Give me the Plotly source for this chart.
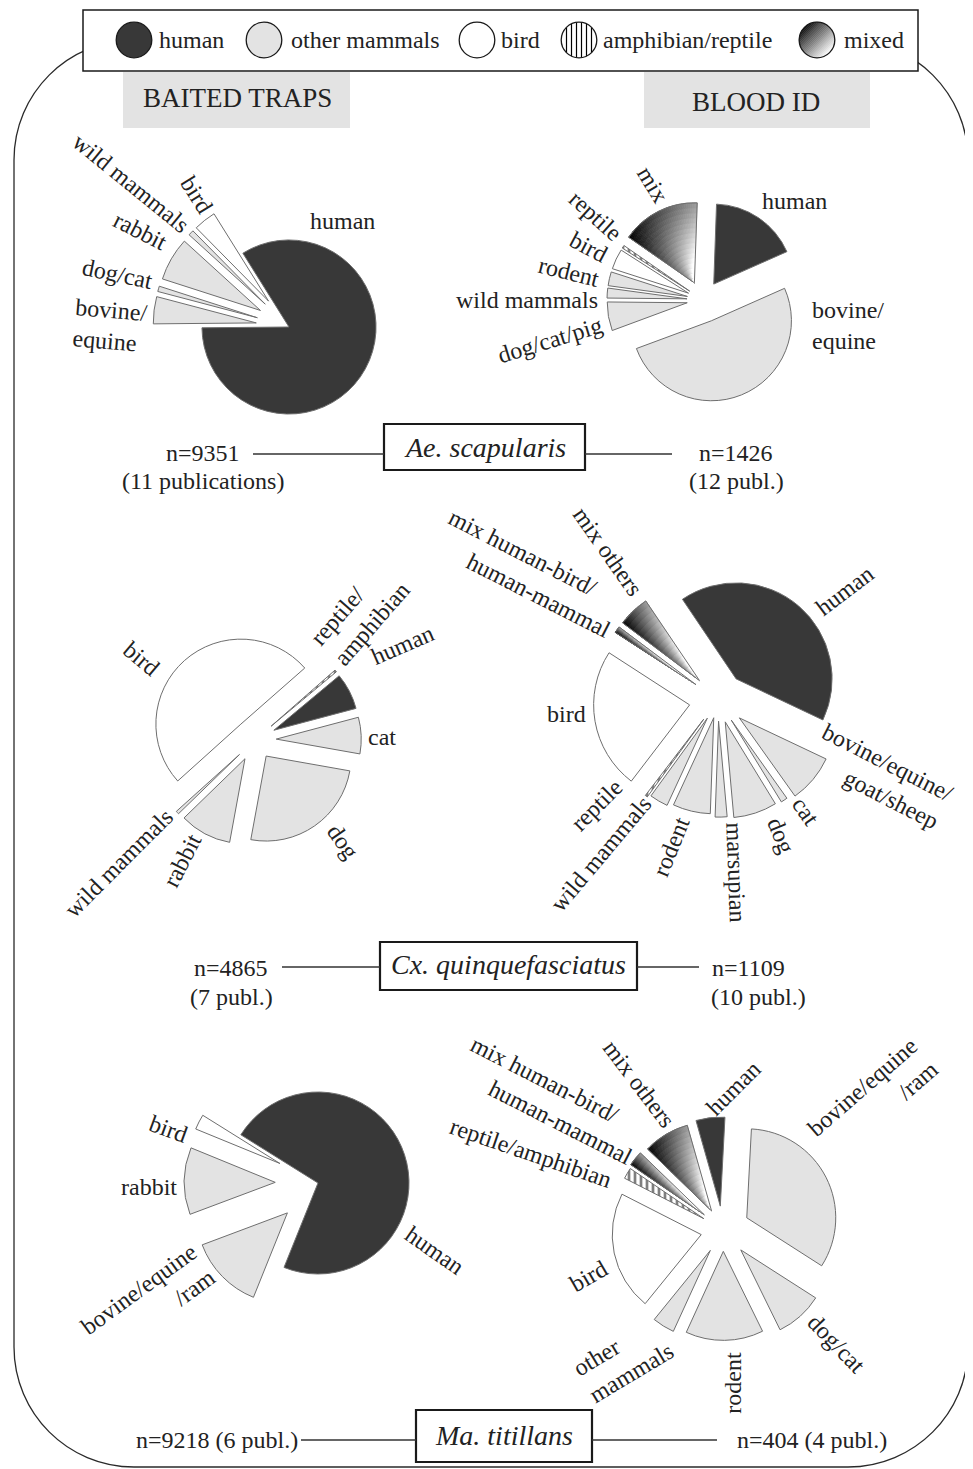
import math
import numpy as np
import plotly.graph_objects as go

W, H = 973, 1469
OFF = 8  # page body margin of the exported html

# =========================== DATA ===========================
species = ["Ae. scapularis", "Cx. quinquefasciatus", "Ma. titillans"]
trap_n = [9351, 4865, 9218]
trap_publ = [11, 7, 6]
blood_n = [1426, 1109, 404]
blood_publ = [12, 10, 4]

legend_names = ["human", "other mammals", "bird", "amphibian/reptile", "mixed"]
legend_groups = ["human", "mammal", "bird", "reptile", "mixed"]

# Ae. scapularis - baited traps (% of catch)
aes_trap_labels = ["human", "bovine/<br>equine", "dog/cat", "rabbit", "wild mammals", "bird"]
aes_trap_values = [83.7, 4.25, 0.85, 6.8, 0.85, 3.5]
aes_trap_groups = ["human", "mammal", "mammal", "mammal", "mammal", "bird"]

# Ae. scapularis - blood ID
aes_blood_labels = ["human", "bovine/<br>equine", "dog/cat/pig", "wild mammals", "rodent",
                    "bird", "reptile", "mix"]
aes_blood_values = [17.8, 51.0, 5.8, 2.0, 2.8, 4.1, 0.6, 15.9]
aes_blood_groups = ["human", "mammal", "mammal", "mammal", "mammal", "bird", "reptile", "mixed"]

# Cx. quinquefasciatus - baited traps
cxq_trap_labels = ["bird", "reptile/<br>amphibian", "human", "cat", "dog", "rabbit", "wild mammals"]
cxq_trap_values = [50.0, 0.4, 6.9, 6.9, 25.0, 9.8, 0.6]
cxq_trap_groups = ["bird", "reptile", "human", "mammal", "mammal", "mammal", "mammal"]

# Cx. quinquefasciatus - blood ID
cxq_blood_labels = ["human", "bovine/equine/<br>goat/sheep", "cat", "dog", "marsupian", "rodent",
                    "wild mammals", "reptile", "bird", "mix human-bird/<br>human-mammal", "mix others"]
cxq_blood_values = [41.4, 8.1, 1.1, 7.3, 2.0, 6.3, 3.1, 0.4, 23.7, 1.1, 5.3]
cxq_blood_groups = ["human", "mammal", "mammal", "mammal", "mammal", "mammal", "mammal",
                    "reptile", "bird", "mixed", "mixed"]

# Ma. titillans - baited traps
mat_trap_labels = ["human", "bovine/equine<br>/ram", "rabbit", "bird"]
mat_trap_values = [72.2, 13.2, 11.9, 2.7]
mat_trap_groups = ["human", "mammal", "mammal", "bird"]

# Ma. titillans - blood ID
mat_blood_labels = ["bovine/equine<br>/ram", "dog/cat", "rodent", "other<br>mammals", "bird",
                    "reptile/amphibian", "mix human-bird/<br>human-mammal", "mix others", "human"]
mat_blood_values = [33.0, 8.6, 14.0, 4.0, 21.5, 2.0, 2.7, 8.3, 5.2]
mat_blood_groups = ["mammal", "mammal", "mammal", "mammal", "bird", "reptile", "mixed", "mixed", "human"]

# =========================== STYLE ===========================
FONT = "Liberation Serif, Times New Roman, serif"
TXT = "#222222"
GROUP_FILL = {"human": "#383838", "mammal": "#e3e3e3", "bird": "#ffffff",
              "reptile": "#ffffff", "mixed": "rgba(0,0,0,0)"}
SLICE_LINE = "#6e6e6e"

# label layout per slice: (angle deg clockwise from top, distance px, text rotation, align, pad line2)
PIES = [
    dict(data=(aes_trap_labels, aes_trap_values, aes_trap_groups),
         center=(289, 327), r=103, rotation=328,
         pull=[0, .32, .32, .32, .32, .32], rscale=[0.845, 1, 1, 1, 1, 1],
         lab=[(26.6, 118.5, 0, "center", 0), (270.6, 179, 5, "left", 0), (287.2, 179.5, 12, "center", 0),
              (302.7, 177, 27, "center", 0), (312.3, 214, 39, "center", 0), (325, 161, 58, "center", 0)]),
    dict(data=(aes_blood_labels, aes_blood_values, aes_blood_groups),
         center=(703, 300), r=80, rotation=2,
         pull=[.24, .28, .2, .2, .2, .2, .2, .24],
         lab=[(42.8, 135.4, 0, "center", 0), (99.8, 147.4, 0, "left", 0), (255.3, 158, -17, "center", 0),
              (270, 176.3, 0, "center", 0), (281.7, 136.8, 14, "center", 0), (294.7, 126.2, 28, "center", 0),
              (308.2, 136.5, 42, "center", 0), (336.5, 125.4, 59, "center", 0)]),
    dict(data=(cxq_trap_labels, cxq_trap_values, cxq_trap_groups),
         center=(255, 740), r=85, rotation=228,
         pull=[.25, .25, .25, .25, .23, .25, .25],
         lab=[(305.6, 139.3, 40, "center", 0), (39.6, 164.6, -49, "left", 0), (57.2, 175.3, -23.5, "center", 0),
              (88.5, 126.7, 0, "center", 0), (139, 134.7, 55, "center", 0), (211.3, 141.2, -63, "center", 0),
              (227.8, 183.6, -45, "center", 0)]),
    dict(data=(cxq_blood_labels, cxq_blood_values, cxq_blood_groups),
         center=(718, 700), r=96, rotation=326,
         pull=[.29, .29, .25, .24, .22, .19, .22, .25, .3, .28, .28],
         lab=[(49.1, 166.8, -37, "center", 0), (115.2, 180, 27, "right", 0), (141.6, 141.2, 55, "center", 0),
              (155.1, 148.9, 68, "center", 0), (174.1, 173.2, 88, "center", 0), (197.9, 154.1, -68, "center", 0),
              (217.3, 193.6, -50, "center", 0), (229.1, 160.4, -45, "center", 0), (264.7, 152, 0, "center", 0),
              (304, 227, 27, "left", 6), (323.5, 184.5, 55, "center", 0)]),
    dict(data=(mat_trap_labels, mat_trap_values, mat_trap_groups),
         center=(318, 1183), r=91, rotation=302,
         pull=[0, .47, .47, .47],
         lab=[(120, 134, 35, "center", 0), (235, 207, -36, "right", 0), (268.7, 169, 0, "center", 0),
              (289.8, 159.1, 20, "center", 0)]),
    dict(data=(mat_blood_labels, mat_blood_values, mat_blood_groups),
         center=(723, 1230), r=89, rotation=3,
         pull=[.3, .3, .24, .27, .25, .25, .27, .25, .27],
         lab=[(48.9, 199.4, -41, "right", 0), (135, 161, 46, "center", 0), (176.1, 152.6, -90, "center", 0),
              (217.5, 163.8, -31, "left", 0), (251.2, 141.6, -30, "center", 0), (291.7, 207, 19, "center", 0),
              (307.2, 215, 27, "left", 6), (330.1, 168.4, 53, "center", 0), (4.4, 142.1, -45, "center", 0)]),
]


def fx(x):
    return (x - OFF) / W


def fy(y):
    return 1 - (y - OFF) / H


def wrap(a):
    return ((a + 180) % 360) - 180


def dom(cx, cy, half):
    return dict(x=[fx(cx - half), fx(cx + half)], y=[fy(cy + half), fy(cy - half)])


fig = go.Figure()
shapes = []
annots = []


def add_pie(st):
    labels, values, groups = st["data"]
    n = len(values)
    cx, cy = st["center"]
    r = st["r"]
    rot = st["rotation"]
    pulls = st["pull"]
    rs = st.get("rscale", [1.0] * n)
    total = float(sum(values))
    starts, mids = [], []
    acc = 0.0
    for v in values:
        starts.append(rot + 360 * acc / total)
        mids.append(rot + 360 * (acc + v / 2) / total)
        acc += v

    # gradient fill for the mixed slices (angular x radial shading)
    for i, g in enumerate(groups):
        if g != "mixed":
            continue
        R = r * rs[i]
        d = pulls[i] * R
        a = math.radians(mids[i])
        gx, gy = cx + d * math.sin(a), cy - d * math.cos(a)
        NA, NB = 36, 16
        for k in range(NB):
            s = (k + 0.5) / NB
            Rk = R * (k + 1) / NB
            cols = []
            for j in range(NA):
                t = (j + 0.5) / NA
                L = min(255, max(0, 255 * (0.6 * t + 0.6 * (1 - s))))
                cols.append(f"rgb({L:.0f},{L:.0f},{L:.0f})")
            cols.append("rgba(0,0,0,0)")
            fig.add_trace(go.Pie(
                values=[values[i] / NA] * NA + [total - values[i]],
                sort=False, direction="clockwise", rotation=wrap(starts[i]),
                hole=k / (k + 1),
                marker=dict(colors=cols, line=dict(color=cols[:-1] + ["rgba(0,0,0,0)"],
                                                   width=[0.8] * NA + [0])),
                textinfo="none", hoverinfo="skip", showlegend=False,
                domain=dom(gx, gy, Rk)))

    # the slices themselves
    for sc in sorted(set(rs)):
        R = r * sc
        cols, lw, pl, pat = [], [], [], []
        for i in range(n):
            on = rs[i] == sc
            cols.append(GROUP_FILL[groups[i]] if on else "rgba(0,0,0,0)")
            lw.append(1.0 if on else 0)
            pl.append(pulls[i] if on else 0)
            pat.append("|" if (on and groups[i] == "reptile") else "")
        P = max(pl)
        fig.add_trace(go.Pie(
            labels=labels, values=values, sort=False, direction="clockwise",
            rotation=wrap(rot), pull=pl,
            marker=dict(colors=cols, line=dict(color=SLICE_LINE, width=lw),
                        pattern=dict(shape=pat, fgcolor="black", size=6, solidity=0.45,
                                     fillmode="overlay")),
            textinfo="none", hoverinfo="skip", showlegend=False,
            domain=dom(cx, cy, R * (1 + P))))

    # slice labels
    for i, (ang, dist, trot, align, pad) in enumerate(st["lab"]):
        a = math.radians(ang)
        x = cx + dist * math.sin(a)
        y = cy - dist * math.cos(a)
        text = labels[i]
        if pad:
            parts = text.split("<br>")
            text = parts[0] + "<br>" + "\u00a0" * pad + parts[1]
        annots.append(dict(x=fx(x), y=fy(y), xref="paper", yref="paper", text=text,
                           showarrow=False, textangle=trot, xanchor="center", yanchor="middle",
                           align=align, font=dict(family=FONT, size=24, color=TXT)))


for st in PIES:
    add_pie(st)

# --------------------------- frame (rounded border) ---------------------------
Lx, Rx, Ty, By, RR = 14, 968, 40, 1467, 120
k = 0.5523 * RR


def P(x, y):
    return f"{fx(x):.5f},{fy(y):.5f}"


border = (f"M {P(Lx + RR, Ty)} L {P(Rx - RR, Ty)} "
          f"C {P(Rx - RR + k, Ty)} {P(Rx, Ty + RR - k)} {P(Rx, Ty + RR)} "
          f"L {P(Rx, By - RR)} C {P(Rx, By - RR + k)} {P(Rx - RR + k, By)} {P(Rx - RR, By)} "
          f"L {P(Lx + RR, By)} C {P(Lx + RR - k, By)} {P(Lx, By - RR + k)} {P(Lx, By - RR)} "
          f"L {P(Lx, Ty + RR)} C {P(Lx, Ty + RR - k)} {P(Lx + RR - k, Ty)} {P(Lx + RR, Ty)} Z")
shapes.append(dict(type="path", path=border, xref="paper", yref="paper",
                   line=dict(color="#2a2a2a", width=1.3), layer="below"))

# --------------------------- legend box ---------------------------
shapes.append(dict(type="rect", xref="paper", yref="paper", x0=fx(83), x1=fx(918), y0=fy(71), y1=fy(10),
                   fillcolor="white", line=dict(color="#1a1a1a", width=1.5)))
leg_cx = [134, 264, 477, 579, 817]
leg_tx = [157, 289, 499, 601, 842]
LEG_Y, LR = 40, 17.8
for name, g, ccx, tx in zip(legend_names, legend_groups, leg_cx, leg_tx):
    if g == "mixed":
        NS = 24
        phi = math.radians(45)
        for s_ in range(NS):
            u0 = -1 + 2 * s_ / NS
            u1 = -1 + 2 * (s_ + 1) / NS
            pts = [(u, math.sqrt(max(0.0, 1 - u * u))) for u in np.linspace(u0, u1, 5)]
            pts += [(u, -math.sqrt(max(0.0, 1 - u * u))) for u in np.linspace(u1, u0, 5)]
            scr = [(ccx + LR * (u * math.cos(phi) - v * math.sin(phi)),
                    LEG_Y + LR * (u * math.sin(phi) + v * math.cos(phi))) for u, v in pts]
            Lc = int(15 + 240 * ((s_ + 0.5) / NS))
            col = f"rgb({Lc},{Lc},{Lc})"
            shapes.append(dict(type="path", xref="paper", yref="paper",
                               path="M " + " L ".join(P(x, y) for x, y in scr) + " Z",
                               fillcolor=col, line=dict(color=col, width=0.5)))
    else:
        shapes.append(dict(type="circle", xref="paper", yref="paper",
                           x0=fx(ccx - LR), x1=fx(ccx + LR), y0=fy(LEG_Y + LR), y1=fy(LEG_Y - LR),
                           fillcolor=GROUP_FILL[g], line=dict(width=0)))
    if g == "reptile":
        for dx in [-12.5, -7.5, -2.5, 2.5, 7.5, 12.5]:
            hy = LR * math.sqrt(max(0.0, 1 - (dx / LR) ** 2))
            shapes.append(dict(type="line", xref="paper", yref="paper",
                               x0=fx(ccx + dx), x1=fx(ccx + dx), y0=fy(LEG_Y - hy), y1=fy(LEG_Y + hy),
                               line=dict(color="black", width=1.2)))
    shapes.append(dict(type="circle", xref="paper", yref="paper",
                       x0=fx(ccx - LR), x1=fx(ccx + LR), y0=fy(LEG_Y + LR), y1=fy(LEG_Y - LR),
                       fillcolor="rgba(0,0,0,0)", line=dict(color="#1a1a1a", width=1.3)))
    annots.append(dict(x=fx(tx), y=fy(LEG_Y), xref="paper", yref="paper", text=name, showarrow=False,
                       xanchor="left", yanchor="middle", font=dict(family=FONT, size=24, color=TXT)))

# --------------------------- column headers ---------------------------
for txt, x0, x1, tcx, tcy in [("BAITED TRAPS", 123, 350, 237, 98), ("BLOOD ID", 644, 870, 756, 102)]:
    shapes.append(dict(type="rect", xref="paper", yref="paper", x0=fx(x0), x1=fx(x1), y0=fy(128), y1=fy(72),
                       fillcolor="#e3e3e3", line=dict(width=0), layer="below"))
    annots.append(dict(x=fx(tcx), y=fy(tcy), xref="paper", yref="paper", text=txt, showarrow=False,
                       xanchor="center", yanchor="middle", font=dict(family=FONT, size=27, color=TXT)))

# --------------------------- species rows ---------------------------
rows = [
    dict(box=(384, 424, 585, 470), ty=447, ly=454, l=(253, 384), r=(585, 672)),
    dict(box=(380, 942, 637, 990), ty=964, ly=967, l=(282, 380), r=(637, 699)),
    dict(box=(416, 1410, 592, 1462), ty=1435, ly=1440, l=(301, 416), r=(592, 717)),
]
for i, rw in enumerate(rows):
    x0, y0, x1, y1 = rw["box"]
    shapes.append(dict(type="rect", xref="paper", yref="paper", x0=fx(x0), x1=fx(x1), y0=fy(y1), y1=fy(y0),
                       fillcolor="white", line=dict(color="#1a1a1a", width=2.2)))
    for a_, b_ in (rw["l"], rw["r"]):
        shapes.append(dict(type="line", xref="paper", yref="paper", x0=fx(a_), x1=fx(b_),
                           y0=fy(rw["ly"]), y1=fy(rw["ly"]), line=dict(color="#333333", width=1.3)))
    annots.append(dict(x=fx((x0 + x1) / 2), y=fy(rw["ty"]), xref="paper", yref="paper",
                       text=f"<i>{species[i]}</i>", showarrow=False, xanchor="center", yanchor="middle",
                       font=dict(family=FONT, size=28, color=TXT)))

nfont = dict(family=FONT, size=24, color=TXT)


def note(x, y, text, anchor="center"):
    annots.append(dict(x=fx(x), y=fy(y), xref="paper", yref="paper", text=text, showarrow=False,
                       xanchor=anchor, yanchor="middle", font=nfont))


note(203, 453, f"n={trap_n[0]}")
note(203, 481, f"({trap_publ[0]} publications)")
note(736, 453, f"n={blood_n[0]}")
note(736, 481, f"({blood_publ[0]} publ.)")
note(231, 968, f"n={trap_n[1]}")
note(231, 997, f"({trap_publ[1]} publ.)")
note(748, 968, f"n={blood_n[1]}")
note(758, 997, f"({blood_publ[1]} publ.)")
note(300, 1440, f"n={trap_n[2]} ({trap_publ[2]} publ.)", "right")
note(735, 1440, f"n={blood_n[2]} ({blood_publ[2]} publ.)", "left")

fig.update_layout(width=W, height=H, margin=dict(l=0, r=0, t=0, b=0), autosize=False,
                  paper_bgcolor="white", plot_bgcolor="white", showlegend=False,
                  shapes=shapes, annotations=annots)
fig.write_html("out.html")
